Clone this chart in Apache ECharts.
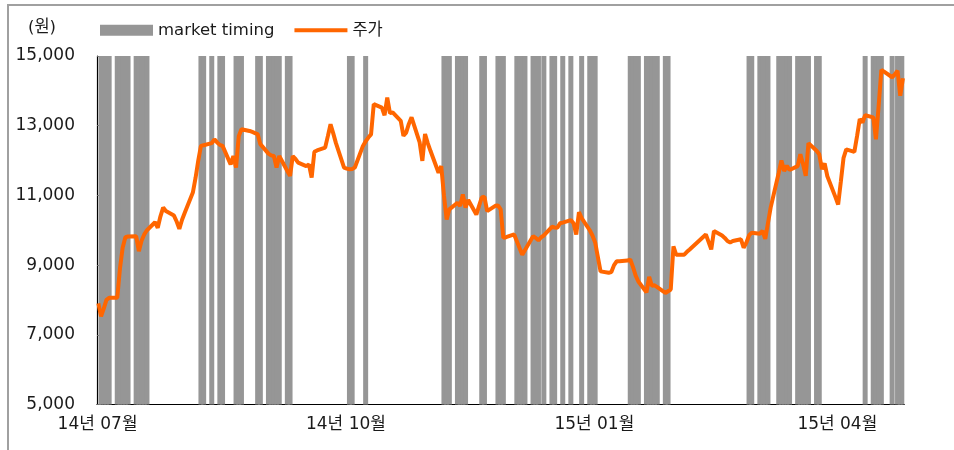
<!DOCTYPE html>
<html>
<head>
<meta charset="utf-8">
<script src="https://cdn.jsdelivr.net/npm/echarts@6/dist/echarts.min.js"></script>
<style>
  html, body { margin: 0; padding: 0; background: #fff; }
  #chart { width: 954px; height: 450px; }
</style>
</head>
<body>
<div id="chart"></div>
<script>
// Calendar range of the x axis (one category per calendar day)
const firstDay = '2014-06-30';
const lastDay = '2015-04-24';

// Months that get a label on the x axis
const labelMonths = ['01', '04', '07', '10'];

// Y axis ticks (원)
const yMin = 5000;
const yMax = 15000;
const yStep = 2000;

// Days on which the market timing signal is on
const signalDates = [
  '2014-07-01', '2014-07-02', '2014-07-03', '2014-07-04',
  '2014-07-07', '2014-07-08', '2014-07-09', '2014-07-10', '2014-07-11',
  '2014-07-14', '2014-07-15', '2014-07-16', '2014-07-17', '2014-07-18',
  '2014-08-07', '2014-08-08', '2014-08-11', '2014-08-14', '2014-08-15',
  '2014-08-20', '2014-08-21', '2014-08-22', '2014-08-28', '2014-08-29',
  '2014-09-01', '2014-09-02', '2014-09-03', '2014-09-04', '2014-09-05',
  '2014-09-08', '2014-09-09',
  '2014-10-01', '2014-10-02', '2014-10-07',
  '2014-11-05', '2014-11-06', '2014-11-07',
  '2014-11-10', '2014-11-11', '2014-11-12', '2014-11-13',
  '2014-11-19', '2014-11-20', '2014-11-25', '2014-11-26', '2014-11-27',
  '2014-12-02', '2014-12-03', '2014-12-04', '2014-12-05',
  '2014-12-08', '2014-12-09', '2014-12-10', '2014-12-12',
  '2014-12-15', '2014-12-16', '2014-12-19', '2014-12-22', '2014-12-26',
  '2014-12-29', '2014-12-30', '2014-12-31',
  '2015-01-13', '2015-01-14', '2015-01-15', '2015-01-16',
  '2015-01-19', '2015-01-20', '2015-01-21', '2015-01-22', '2015-01-23',
  '2015-01-26', '2015-01-27',
  '2015-02-26', '2015-02-27',
  '2015-03-02', '2015-03-03', '2015-03-04', '2015-03-05',
  '2015-03-09', '2015-03-10', '2015-03-11', '2015-03-12', '2015-03-13',
  '2015-03-16', '2015-03-17', '2015-03-18', '2015-03-19', '2015-03-20',
  '2015-03-23', '2015-03-24',
  '2015-04-10', '2015-04-13', '2015-04-14', '2015-04-15', '2015-04-16',
  '2015-04-20', '2015-04-22', '2015-04-23', '2015-04-24'
];

// Daily closing price (주가): dates and values
const priceDates = [
  '2014-06-30',
  '2014-07-01', '2014-07-02', '2014-07-03', '2014-07-04', '2014-07-07', '2014-07-08', '2014-07-09',
  '2014-07-10', '2014-07-11', '2014-07-14', '2014-07-15', '2014-07-16', '2014-07-17', '2014-07-18',
  '2014-07-21', '2014-07-22', '2014-07-23', '2014-07-24', '2014-07-25', '2014-07-28', '2014-07-29',
  '2014-07-30', '2014-07-31',
  '2014-08-01', '2014-08-04', '2014-08-05', '2014-08-06', '2014-08-07', '2014-08-08', '2014-08-11',
  '2014-08-12', '2014-08-13', '2014-08-14', '2014-08-15', '2014-08-18', '2014-08-19', '2014-08-20',
  '2014-08-21', '2014-08-22', '2014-08-25', '2014-08-26', '2014-08-27', '2014-08-28', '2014-08-29',
  '2014-09-01', '2014-09-02', '2014-09-03', '2014-09-04', '2014-09-05', '2014-09-08', '2014-09-09',
  '2014-09-10', '2014-09-11', '2014-09-12', '2014-09-15', '2014-09-16', '2014-09-17', '2014-09-18',
  '2014-09-19', '2014-09-22', '2014-09-23', '2014-09-24', '2014-09-25', '2014-09-26', '2014-09-29',
  '2014-09-30',
  '2014-10-01', '2014-10-02', '2014-10-03', '2014-10-06', '2014-10-07', '2014-10-08', '2014-10-09',
  '2014-10-10', '2014-10-13', '2014-10-14', '2014-10-15', '2014-10-16', '2014-10-17', '2014-10-20',
  '2014-10-21', '2014-10-22', '2014-10-23', '2014-10-24', '2014-10-27', '2014-10-28', '2014-10-29',
  '2014-10-30', '2014-10-31',
  '2014-11-03', '2014-11-04', '2014-11-05', '2014-11-06', '2014-11-07', '2014-11-10', '2014-11-11',
  '2014-11-12', '2014-11-13', '2014-11-14', '2014-11-17', '2014-11-18', '2014-11-19', '2014-11-20',
  '2014-11-21', '2014-11-24', '2014-11-25', '2014-11-26', '2014-11-27', '2014-11-28',
  '2014-12-01', '2014-12-04', '2014-12-08', '2014-12-09', '2014-12-10', '2014-12-11', '2014-12-12',
  '2014-12-15', '2014-12-16', '2014-12-17', '2014-12-18', '2014-12-19', '2014-12-22', '2014-12-23',
  '2014-12-24', '2014-12-25', '2014-12-26', '2014-12-29', '2014-12-30', '2014-12-31',
  '2015-01-02', '2015-01-05', '2015-01-06', '2015-01-07', '2015-01-08', '2015-01-09', '2015-01-12',
  '2015-01-13', '2015-01-14', '2015-01-15', '2015-01-16', '2015-01-19', '2015-01-20', '2015-01-21',
  '2015-01-22', '2015-01-23', '2015-01-26', '2015-01-27', '2015-01-28', '2015-01-29', '2015-01-30',
  '2015-02-02', '2015-02-03', '2015-02-04', '2015-02-10', '2015-02-12', '2015-02-13', '2015-02-16',
  '2015-02-17', '2015-02-18', '2015-02-19', '2015-02-20', '2015-02-23', '2015-02-24', '2015-02-25',
  '2015-02-26', '2015-02-27',
  '2015-03-02', '2015-03-03', '2015-03-04', '2015-03-05', '2015-03-06', '2015-03-09', '2015-03-10',
  '2015-03-11', '2015-03-12', '2015-03-13', '2015-03-16', '2015-03-17', '2015-03-18', '2015-03-19',
  '2015-03-20', '2015-03-23', '2015-03-24', '2015-03-25', '2015-03-26', '2015-03-27', '2015-03-30',
  '2015-03-31',
  '2015-04-01', '2015-04-02', '2015-04-03', '2015-04-06', '2015-04-07', '2015-04-08', '2015-04-09',
  '2015-04-10', '2015-04-13', '2015-04-14', '2015-04-15', '2015-04-16', '2015-04-17', '2015-04-20',
  '2015-04-21', '2015-04-22', '2015-04-23', '2015-04-24'
];

const prices = [
  7900,
  7530, 7750, 8000, 8060, 8060, 8900, 9500,
  9800, 9820, 9830, 9400, 9700, 9880, 10000,
  10230, 10070, 10400, 10650, 10550, 10420, 10250,
  10040, 10300,
  10500, 11080, 11500, 12000, 12420, 12440, 12500,
  12610, 12520, 12450, 12420, 11890, 12130, 11800,
  12700, 12900, 12850, 12820, 12790, 12760, 12470,
  12200, 12150, 12130, 11800, 12130, 11700, 11560,
  12130, 12050, 11940, 11840, 11890, 11510, 12250,
  12290, 12370, 12700, 13040, 12780, 12500, 11800,
  11770,
  11750, 11760, 11800, 12420, 12550, 12660, 12750,
  13620, 13520, 13300, 13810, 13360, 13380, 13140,
  12710, 12800, 13050, 13240, 12520, 11990, 12760,
  12500, 12280,
  11650, 11840, 11000, 10310, 10600, 10790, 10700,
  11030, 10650, 10870, 10450, 10700, 10940, 10960,
  10550, 10700, 10710, 10600, 9780, 9800,
  9880, 9300, 9830, 9780, 9710, 9800, 9850,
  10100, 10080, 10070, 10200, 10220, 10290, 10200,
  9880, 10520, 10350, 10000, 9850, 9650,
  8820, 8780, 8800, 9000, 9110, 9110, 9130,
  9160, 8950, 8700, 8530, 8220, 8660, 8410,
  8420, 8370, 8200, 8250, 8300, 9540, 9300,
  9300, 9380, 9450, 9880, 9450, 9980, 9850,
  9780, 9690, 9650, 9690, 9740, 9500, 9640,
  9850, 9930,
  9900, 9980, 9750, 10200, 10650, 11650, 12000,
  11700, 11850, 11730, 11840, 12180, 11900, 11560,
  12500, 12280, 12180, 11750, 11920, 11550, 10950,
  10740,
  11400, 12080, 12320, 12250, 12700, 13190, 13090,
  13300, 13240, 12610, 13570, 14600, 14550, 14390,
  14470, 14580, 13860, 14360
];

// ---- build the calendar categories ----
const DAY = 86400000;
const categories = [];
for (let t = Date.parse(firstDay + 'T00:00:00Z'); t <= Date.parse(lastDay + 'T00:00:00Z'); t += DAY) {
  categories.push(new Date(t).toISOString().slice(0, 10));
}
const indexOf = new Map(categories.map((d, i) => [d, i]));

const signalData = signalDates.map(d => [indexOf.get(d), yMax]);
const priceData = priceDates.map((d, i) => [indexOf.get(d), prices[i]]);

const isQuarterStart = (idx, value) => {
  const v = value || categories[idx];
  return v.slice(8) === '01' && labelMonths.includes(v.slice(5, 7));
};

const FONT = '"DejaVu Sans", "Noto Sans CJK KR", sans-serif';
const withComma = v => String(v).replace(/\B(?=(\d{3})+(?!\d))/g, ',');

const chart = echarts.init(document.getElementById('chart'), null, { renderer: 'canvas' });

chart.setOption({
  animation: false,
  backgroundColor: '#ffffff',
  textStyle: { fontFamily: FONT, color: '#1a1a1a' },
  grid: { left: 97, right: 49.7, top: 56, bottom: 45.5, containLabel: false },
  legend: {
    left: 100,
    top: 22,
    padding: 0,
    itemWidth: 53,
    itemHeight: 11,
    itemGap: 20,
    textStyle: { fontFamily: FONT, fontSize: 16.5, color: '#1a1a1a' },
    data: [
      { name: 'market timing', icon: 'rect' },
      { name: '주가', icon: 'path://M0 0H54V4H0Z' }
    ]
  },
  graphic: [
    {
      type: 'polyline',
      shape: { points: [[8, 452], [8, 5], [956, 5]] },
      style: { stroke: '#a0a0a0', lineWidth: 2, fill: null },
      silent: true
    },
    {
      type: 'text',
      left: 28,
      top: 19,
      style: { text: '(원)', fontFamily: FONT, fontSize: 16.5, fill: '#1a1a1a' }
    }
  ],
  xAxis: {
    type: 'category',
    data: categories,
    boundaryGap: true,
    axisLine: { lineStyle: { color: '#000', width: 1.2 } },
    axisTick: {
      inside: true,
      length: 7,
      interval: isQuarterStart,
      lineStyle: { color: '#444', width: 1 }
    },
    axisLabel: {
      interval: isQuarterStart,
      margin: 12,
      fontSize: 17,
      color: '#1a1a1a',
      padding: [0, 7, 0, 0],
      formatter: v => v.slice(2, 4) + '년 ' + v.slice(5, 7) + '월'
    },
    splitLine: { show: false }
  },
  yAxis: {
    type: 'value',
    min: yMin,
    max: yMax,
    interval: yStep,
    axisLine: { show: true, lineStyle: { color: '#000', width: 1.2 } },
    axisTick: { show: true, inside: true, length: 4, lineStyle: { color: '#666' } },
    axisLabel: { margin: 22, fontSize: 17, color: '#1a1a1a', formatter: withComma },
    splitLine: { show: false }
  },
  series: [
    {
      name: 'market timing',
      type: 'bar',
      data: signalData,
      barWidth: 5,
      itemStyle: { color: '#969696' },
      z: 1
    },
    {
      name: '주가',
      type: 'line',
      data: priceData,
      symbol: 'none',
      lineStyle: { color: '#ff6600', width: 4 },
      itemStyle: { color: '#ff6600' },
      z: 3
    }
  ]
});
</script>
</body>
</html>
